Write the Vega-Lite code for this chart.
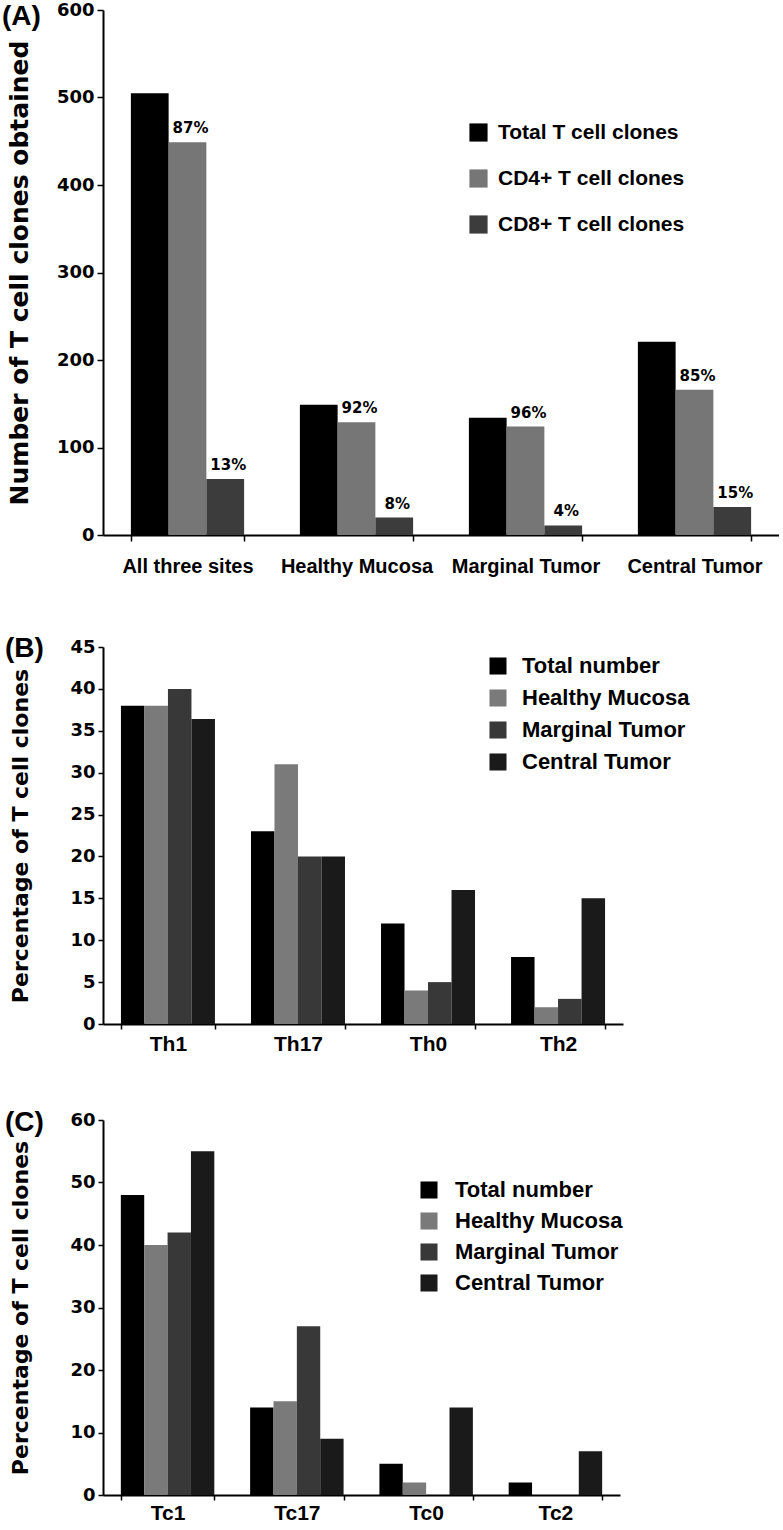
{
  "$schema": "https://vega.github.io/schema/vega-lite/v6.json",
  "padding": {"left": 1, "top": 1, "right": 0, "bottom": 0},
  "background": "white",
  "config": {
    "view": {"stroke": null},
    "axis": {"domainColor": "black", "domainWidth": 2, "tickColor": "black", "tickWidth": 1.5, "labelColor": "black", "titleColor": "black", "grid": false},
    "bar": {"stroke": null},
    "legend": {"symbolStrokeWidth": 0, "labelLimit": 400}
  },
  "resolve": {"scale": {"color": "independent", "x": "independent", "y": "independent", "xOffset": "independent"}, "legend": {"color": "independent"}},
  "bounds": "flush",
  "spacing": 112,
  "vconcat": [
    {
      "width": 676,
      "height": 525,
      "title": {"text": "(A)", "anchor": "start", "frame": "bounds", "orient": "top", "font": "Liberation Sans", "fontSize": 28, "fontWeight": "bold", "color": "black", "baseline": "alphabetic", "offset": 0, "dx": -5, "dy": 52},
      "data": {"values": [
        {"site": "All three sites", "type": "Total T cell clones", "n": 505, "pct": ""},
        {"site": "All three sites", "type": "CD4+ T cell clones", "n": 449, "pct": "87%"},
        {"site": "All three sites", "type": "CD8+ T cell clones", "n": 64, "pct": "13%"},
        {"site": "Healthy Mucosa", "type": "Total T cell clones", "n": 149, "pct": ""},
        {"site": "Healthy Mucosa", "type": "CD4+ T cell clones", "n": 129, "pct": "92%"},
        {"site": "Healthy Mucosa", "type": "CD8+ T cell clones", "n": 20, "pct": "8%"},
        {"site": "Marginal Tumor", "type": "Total T cell clones", "n": 134, "pct": ""},
        {"site": "Marginal Tumor", "type": "CD4+ T cell clones", "n": 124, "pct": "96%"},
        {"site": "Marginal Tumor", "type": "CD8+ T cell clones", "n": 11, "pct": "4%"},
        {"site": "Central Tumor", "type": "Total T cell clones", "n": 221, "pct": ""},
        {"site": "Central Tumor", "type": "CD4+ T cell clones", "n": 166, "pct": "85%"},
        {"site": "Central Tumor", "type": "CD8+ T cell clones", "n": 32, "pct": "15%"}
      ]},
      "resolve": {"scale": {"xOffset": "shared"}},
      "encoding": {
        "x": {"field": "site", "type": "nominal", "sort": ["All three sites", "Healthy Mucosa", "Marginal Tumor", "Central Tumor"],
              "scale": {"paddingInner": 0.33, "paddingOuter": 0.165},
              "axis": {"title": null, "labelAngle": 0, "labelFont": "Liberation Sans", "labelFontSize": 20, "labelFontWeight": "bold", "labelPadding": 15, "tickBand": "extent", "tickSize": 6, "labelLimit": 200}},
        "y": {"field": "n", "type": "quantitative", "scale": {"domain": [0, 600]},
              "axis": {"title": "Number of T cell clones obtained", "values": [0, 100, 200, 300, 400, 500, 600], "labelFont": "DejaVu Sans", "labelFontSize": 18, "labelFontWeight": "bold", "tickSize": 6, "labelPadding": 3, "minExtent": 44, "maxExtent": 44, "titlePadding": 27, "titleFont": "DejaVu Sans", "titleFontSize": 25, "titleFontWeight": "bold"}},
        "xOffset": {"field": "type", "type": "nominal", "scale": {"domain": ["Total T cell clones", "CD4+ T cell clones", "CD8+ T cell clones"]}}
      },
      "layer": [
        {
          "mark": {"type": "bar"},
          "encoding": {
            "color": {"field": "type", "type": "nominal",
                      "scale": {"domain": ["Total T cell clones", "CD4+ T cell clones", "CD8+ T cell clones"], "range": ["#000000", "#767676", "#3c3c3c"]},
                      "legend": {"title": null, "orient": "none", "legendX": 365, "legendY": 112, "symbolType": "square", "symbolSize": 330, "labelFont": "Liberation Sans", "labelFontSize": 21, "labelFontWeight": "bold", "labelColor": "black", "rowPadding": 24, "labelOffset": 9}}
          }
        },
        {
          "mark": {"type": "text", "baseline": "alphabetic", "dy": -9, "dx": 3, "font": "DejaVu Sans", "fontSize": 15, "fontWeight": "bold", "color": "black"},
          "encoding": {"text": {"field": "pct"}}
        }
      ]
    },
    {
      "bounds": "flush",
      "spacing": 96,
      "resolve": {"scale": {"color": "independent", "x": "independent", "y": "independent", "xOffset": "independent"}, "legend": {"color": "independent"}},
      "vconcat": [
        {
          "width": 520,
          "height": 377,
          "title": {"text": "(B)", "anchor": "start", "frame": "bounds", "orient": "top", "font": "Liberation Sans", "fontSize": 28, "fontWeight": "bold", "color": "black", "baseline": "alphabetic", "offset": 0, "dx": -4, "dy": 47},
          "data": {"values": [
            {"subset": "Th1", "group": "Total number", "v": 38},
            {"subset": "Th1", "group": "Healthy Mucosa", "v": 38},
            {"subset": "Th1", "group": "Marginal Tumor", "v": 40},
            {"subset": "Th1", "group": "Central Tumor", "v": 36.4},
            {"subset": "Th17", "group": "Total number", "v": 23},
            {"subset": "Th17", "group": "Healthy Mucosa", "v": 31},
            {"subset": "Th17", "group": "Marginal Tumor", "v": 20},
            {"subset": "Th17", "group": "Central Tumor", "v": 20},
            {"subset": "Th0", "group": "Total number", "v": 12},
            {"subset": "Th0", "group": "Healthy Mucosa", "v": 4},
            {"subset": "Th0", "group": "Marginal Tumor", "v": 5},
            {"subset": "Th0", "group": "Central Tumor", "v": 16},
            {"subset": "Th2", "group": "Total number", "v": 8},
            {"subset": "Th2", "group": "Healthy Mucosa", "v": 2},
            {"subset": "Th2", "group": "Marginal Tumor", "v": 3},
            {"subset": "Th2", "group": "Central Tumor", "v": 15}
          ]},
          "mark": {"type": "bar"},
          "encoding": {
            "x": {"field": "subset", "type": "nominal", "sort": ["Th1", "Th17", "Th0", "Th2"],
                  "scale": {"paddingInner": 0.277, "paddingOuter": 0.138},
                  "axis": {"title": null, "labelAngle": 0, "labelFont": "Liberation Sans", "labelFontSize": 21, "labelFontWeight": "bold", "labelPadding": 4, "tickBand": "extent", "tickSize": 5}},
            "y": {"field": "v", "type": "quantitative", "scale": {"domain": [0, 45]},
                  "axis": {"title": "Percentage of T cell clones", "values": [0, 5, 10, 15, 20, 25, 30, 35, 40, 45], "labelFont": "DejaVu Sans", "labelFontSize": 18, "labelFontWeight": "bold", "tickSize": 5, "labelPadding": 3, "minExtent": 44, "maxExtent": 44, "titlePadding": 27, "titleFont": "DejaVu Sans", "titleFontSize": 22, "titleFontWeight": "bold"}},
            "xOffset": {"field": "group", "type": "nominal", "scale": {"domain": ["Total number", "Healthy Mucosa", "Marginal Tumor", "Central Tumor"]}},
            "color": {"field": "group", "type": "nominal",
                      "scale": {"domain": ["Total number", "Healthy Mucosa", "Marginal Tumor", "Central Tumor"], "range": ["#000000", "#7a7a7a", "#383838", "#1a1a1a"]},
                      "legend": {"title": null, "orient": "none", "legendX": 384, "legendY": 8, "symbolType": "square", "symbolSize": 290, "labelFont": "Liberation Sans", "labelFontSize": 22, "labelFontWeight": "bold", "labelColor": "black", "rowPadding": 10, "labelOffset": 13}}
          }
        },
        {
          "width": 517,
          "height": 375,
          "title": {"text": "(C)", "anchor": "start", "frame": "bounds", "orient": "top", "font": "Liberation Sans", "fontSize": 28, "fontWeight": "bold", "color": "black", "baseline": "alphabetic", "offset": 0, "dx": -4, "dy": 48},
          "data": {"values": [
            {"subset": "Tc1", "group": "Total number", "v": 48},
            {"subset": "Tc1", "group": "Healthy Mucosa", "v": 40},
            {"subset": "Tc1", "group": "Marginal Tumor", "v": 42},
            {"subset": "Tc1", "group": "Central Tumor", "v": 55},
            {"subset": "Tc17", "group": "Total number", "v": 14},
            {"subset": "Tc17", "group": "Healthy Mucosa", "v": 15},
            {"subset": "Tc17", "group": "Marginal Tumor", "v": 27},
            {"subset": "Tc17", "group": "Central Tumor", "v": 9},
            {"subset": "Tc0", "group": "Total number", "v": 5},
            {"subset": "Tc0", "group": "Healthy Mucosa", "v": 2},
            {"subset": "Tc0", "group": "Marginal Tumor", "v": 0},
            {"subset": "Tc0", "group": "Central Tumor", "v": 14},
            {"subset": "Tc2", "group": "Total number", "v": 2},
            {"subset": "Tc2", "group": "Healthy Mucosa", "v": 0},
            {"subset": "Tc2", "group": "Marginal Tumor", "v": 0},
            {"subset": "Tc2", "group": "Central Tumor", "v": 7}
          ]},
          "mark": {"type": "bar"},
          "encoding": {
            "x": {"field": "subset", "type": "nominal", "sort": ["Tc1", "Tc17", "Tc0", "Tc2"],
                  "scale": {"paddingInner": 0.277, "paddingOuter": 0.138},
                  "axis": {"title": null, "labelAngle": 0, "labelFont": "Liberation Sans", "labelFontSize": 21, "labelFontWeight": "bold", "labelPadding": 2, "tickBand": "extent", "tickSize": 5}},
            "y": {"field": "v", "type": "quantitative", "scale": {"domain": [0, 60]},
                  "axis": {"title": "Percentage of T cell clones", "values": [0, 10, 20, 30, 40, 50, 60], "labelFont": "DejaVu Sans", "labelFontSize": 18, "labelFontWeight": "bold", "tickSize": 5, "labelPadding": 3, "minExtent": 44, "maxExtent": 44, "titlePadding": 27, "titleFont": "DejaVu Sans", "titleFontSize": 22, "titleFontWeight": "bold"}},
            "xOffset": {"field": "group", "type": "nominal", "scale": {"domain": ["Total number", "Healthy Mucosa", "Marginal Tumor", "Central Tumor"]}},
            "color": {"field": "group", "type": "nominal",
                      "scale": {"domain": ["Total number", "Healthy Mucosa", "Marginal Tumor", "Central Tumor"], "range": ["#000000", "#7a7a7a", "#383838", "#1a1a1a"]},
                      "legend": {"title": null, "orient": "none", "legendX": 315, "legendY": 59, "symbolType": "square", "symbolSize": 290, "labelFont": "Liberation Sans", "labelFontSize": 22, "labelFontWeight": "bold", "labelColor": "black", "rowPadding": 9, "labelOffset": 15}}
          }
        }
      ]
    }
  ]
}
